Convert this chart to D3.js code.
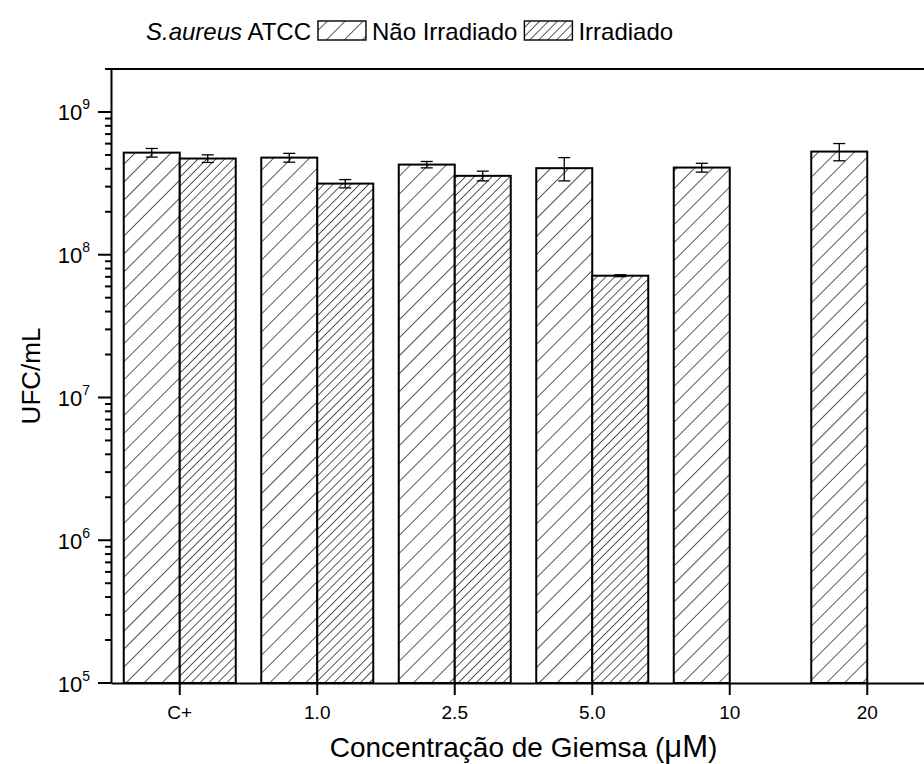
<!DOCTYPE html>
<html>
<head>
<meta charset="utf-8">
<title>S.aureus ATCC - UFC/mL</title>
<style>
body { margin: 0; background: #fff; }
svg { display: block; font-family: Arial, "Liberation Sans", sans-serif; }
.axis path { stroke: #000; stroke-width: 2; }
.axis text { fill: #000; }
</style>
</head>
<body>
<div id="chart"></div>
<script src="https://d3js.org/d3.v7.min.js"></script>
<script>
// data
var categories = ["C+", "1.0", "2.5", "5.0", "10", "20"];
var seriesNames = ["Não Irradiado", "Irradiado"];
var naoIrradiado = [5.19e8, 4.79e8, 4.28e8, 4.04e8, 4.08e8, 5.28e8];
var naoErr = [3.6e7, 3.4e7, 2.2e7, 7.5e7, 2.9e7, 7.3e7];
var irradiado = [4.72e8, 3.15e8, 3.57e8, 7.13e7, null, null];
var irrErr = [2.9e7, 2.1e7, 2.8e7, 1.1e6, null, null];
var yTickExps = [5, 6, 7, 8, 9];

// NB: "top" is taken by window.top, so plot edges get their own names
var width = 924, height = 764,
    pLeft = 111, pRight = 936, pTop = 69, pBottom = 683;

var svg = d3.select('#chart').append('svg')
    .attr('width', width)
    .attr('height', height);

// hatch patterns
var defs = svg.append('defs');
function hatch(id, gap) {
  var p = defs.append('pattern')
      .attr('id', id)
      .attr('patternUnits', 'userSpaceOnUse')
      .attr('width', gap).attr('height', gap)
      .attr('patternTransform', 'rotate(45)');
  p.append('rect').attr('width', gap).attr('height', gap).attr('fill', '#fff');
  p.append('line')
      .attr('x1', 0).attr('y1', 0).attr('x2', 0).attr('y2', gap)
      .attr('stroke', '#000').attr('stroke-width', 1.3);
}
hatch('hatchNao', 12.7);
hatch('hatchIrr', 6.3);
var fills = ['url(#hatchNao)', 'url(#hatchIrr)'];

var x = d3.scaleBand().domain(categories).range([pLeft, pRight]).padding(0);
var x1 = d3.scaleBand().domain(seriesNames).range([-56, 56]).padding(0);
var y = d3.scaleLog().domain([1e5, 2e9]).range([pBottom, pTop]);

var rows = [];
categories.forEach(function (c, i) {
  rows.push({cat: c, s: seriesNames[0], v: naoIrradiado[i], e: naoErr[i], k: 0});
  if (irradiado[i] != null)
    rows.push({cat: c, s: seriesNames[1], v: irradiado[i], e: irrErr[i], k: 1});
});

var cx = function (d) { return x(d.cat) + x.bandwidth() / 2; };

svg.append('g').selectAll('rect').data(rows).enter().append('rect')
    .attr('x', function (d) { return cx(d) + x1(d.s); })
    .attr('y', function (d) { return y(d.v); })
    .attr('width', x1.bandwidth())
    .attr('height', function (d) { return y(1e5) - y(d.v); })
    .attr('fill', function (d) { return fills[d.k]; })
    .attr('stroke', '#000')
    .attr('stroke-width', 2);

// error bars
var eb = svg.append('g').attr('stroke', '#000').attr('stroke-width', 1.3);
rows.forEach(function (d) {
  var mx = cx(d) + x1(d.s) + x1.bandwidth() / 2;
  var y0 = y(d.v - d.e), y1 = y(d.v + d.e);
  eb.append('line').attr('x1', mx).attr('x2', mx).attr('y1', y0).attr('y2', y1);
  eb.append('line').attr('x1', mx - 6).attr('x2', mx + 6).attr('y1', y0).attr('y2', y0);
  eb.append('line').attr('x1', mx - 6).attr('x2', mx + 6).attr('y1', y1).attr('y2', y1);
});

// y ticks (major + minor), drawn from the scale
var majors = yTickExps.map(function (p) { return Math.pow(10, p); });
var minor = [];
for (var e = 5; e <= 9; e++) for (var m = 2; m <= 9; m++) {
  var v = m * Math.pow(10, e);
  if (v <= 2e9) minor.push(v);
}
var yt = svg.append('g').attr('stroke', '#000').attr('stroke-width', 2);
majors.forEach(function (v) {
  yt.append('line').attr('x1', pLeft - 13).attr('x2', pLeft)
      .attr('y1', y(v)).attr('y2', y(v));
});
minor.forEach(function (v) {
  yt.append('line').attr('x1', pLeft - 6).attr('x2', pLeft)
      .attr('y1', y(v)).attr('y2', y(v));
});

var yAxis = svg.append('g').attr('class', 'axis')
    .attr('transform', 'translate(' + pLeft + ',0)')
    .call(d3.axisLeft(y).tickValues(majors).tickSize(0).tickSizeOuter(0).tickFormat(''));
yAxis.selectAll('.tick').each(function (d) {
  var t = d3.select(this).append('text')
      .attr('x', -21).attr('y', 8)
      .attr('text-anchor', 'end')
      .style('font-size', '22px');
  t.append('tspan').text('10');
  t.append('tspan').attr('dy', -11).style('font-size', '14px')
      .text(Math.round(Math.log10(d)));
});

// x axis
var xAxis = svg.append('g').attr('class', 'axis')
    .attr('transform', 'translate(0,' + pBottom + ')')
    .call(d3.axisBottom(x).tickSize(0).tickSizeOuter(0));
xAxis.selectAll('text').style('font-size', '19px').attr('y', 23);
var xtk = svg.append('g').attr('stroke', '#000').attr('stroke-width', 2);
categories.forEach(function (c) {
  var px = x(c) + x.bandwidth() / 2;
  xtk.append('line').attr('x1', px).attr('x2', px)
      .attr('y1', pBottom).attr('y2', pBottom + 12);
});

// top frame line
svg.append('line')
    .attr('x1', pLeft).attr('x2', pRight).attr('y1', pTop).attr('y2', pTop)
    .attr('stroke', '#000').attr('stroke-width', 2);

// axis titles
svg.append('text')
    .attr('transform', 'translate(40,' + ((pTop + pBottom) / 2) + ') rotate(-90)')
    .attr('text-anchor', 'middle')
    .style('font-size', '26px')
    .text('UFC/mL');

var xt = svg.append('text')
    .attr('x', (pLeft + pRight) / 2).attr('y', 757)
    .attr('text-anchor', 'middle')
    .style('font-size', '28px');
xt.append('tspan').text('Concentração de Giemsa (');
xt.append('tspan').style('font-size', '31px').text('μM');
xt.append('tspan').text(')');

// legend on top
var lg = svg.append('g').attr('transform', 'translate(146,40)').style('font-size', '24px');
var lx = 0;
var t0 = lg.append('text').attr('x', lx);
t0.append('tspan').style('font-style', 'italic').text('S.aureus');
t0.append('tspan').text(' ATCC');
lx += t0.node().getComputedTextLength() + 7;
seriesNames.forEach(function (name, i) {
  lg.append('rect').attr('x', lx).attr('y', -19).attr('width', 48).attr('height', 19)
      .attr('fill', fills[i]).attr('stroke', '#000').attr('stroke-width', 1.4);
  lx += 54;
  var t = lg.append('text').attr('x', lx).text(name);
  lx += t.node().getComputedTextLength() + 7;
});
</script>
</body>
</html>
